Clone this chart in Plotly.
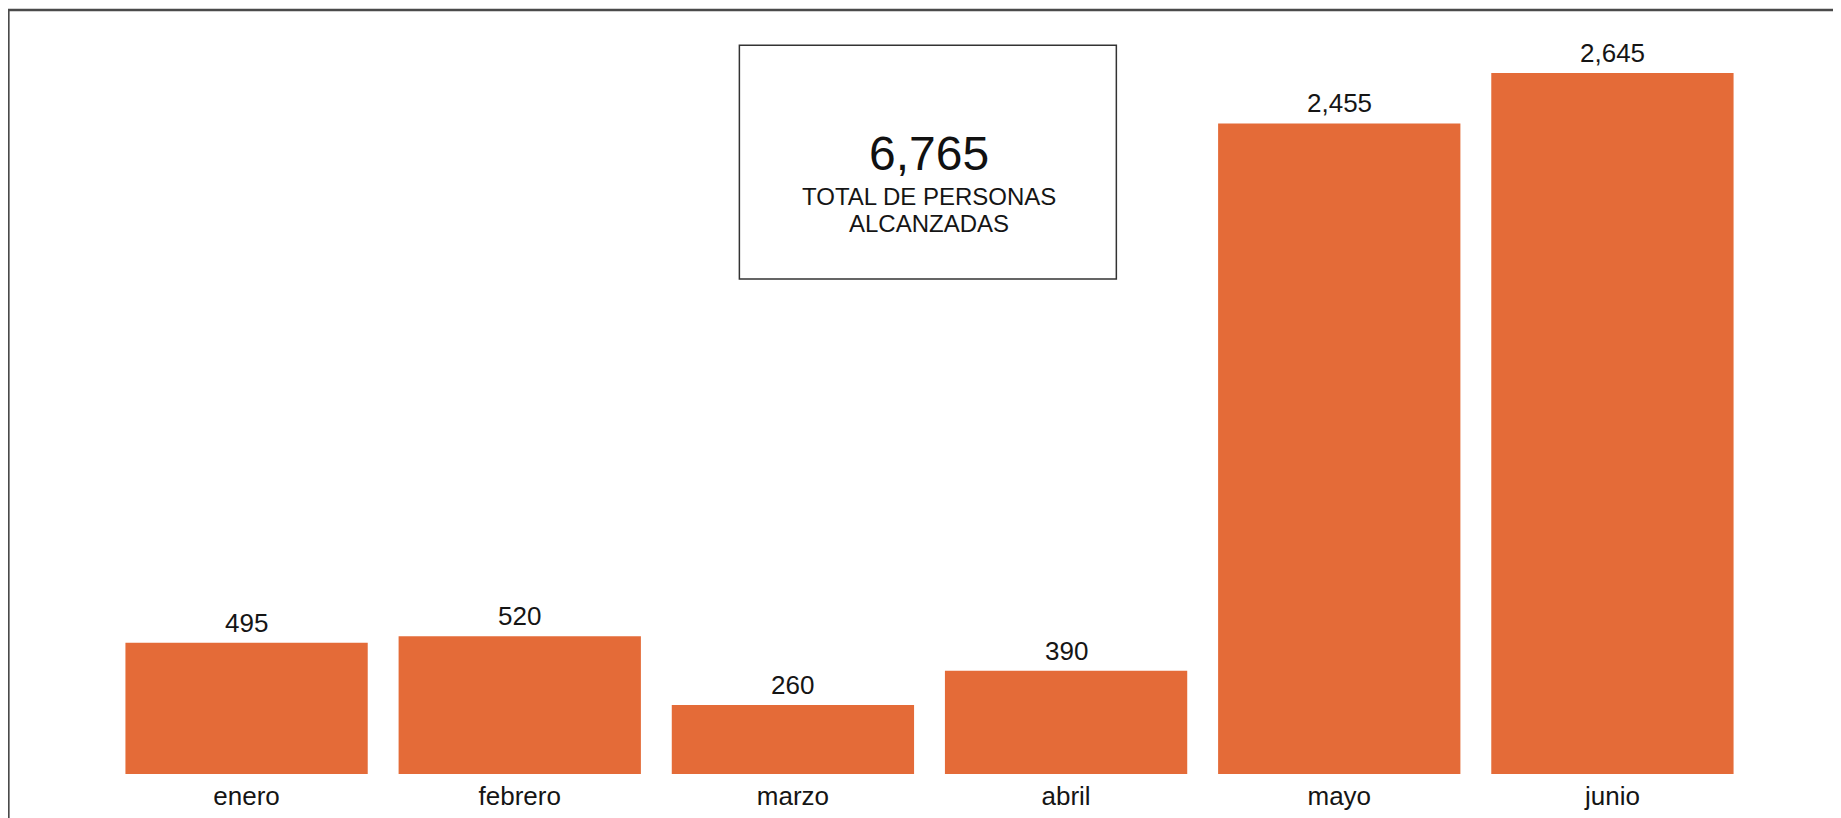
import plotly.graph_objects as go

months = ['enero', 'febrero', 'marzo', 'abril', 'mayo', 'junio']
personas = [495, 520, 260, 390, 2455, 2645]

BAR_COLOR = '#E46B38'
FONT = 'Liberation Sans, Arial, sans-serif'

total = sum(personas)

fig = go.Figure()
fig.add_trace(go.Bar(
    x=months,
    y=personas,
    marker={'color': BAR_COLOR, 'line': {'width': 0}},
    hoverinfo='x+y'
))

# value labels above each bar
for m, v in zip(months, personas):
    fig.add_annotation(
        x=m, y=v, text=f'{v:,}', showarrow=False,
        xanchor='center', yanchor='bottom', yshift=3,
        font={'size': 26, 'color': '#151515', 'family': FONT}
    )

# outer frame (only top and left edges are visible in the original)
fig.add_shape(
    type='rect', xref='paper', yref='paper',
    x0=-0.062, x1=1.2, y0=-0.3, y1=1.0,
    line={'color': '#4a4a4a', 'width': 2.5},
    layer='above'
)

# total box
fig.add_shape(
    type='rect', xref='paper', yref='paper',
    x0=0.384, x1=0.614, y0=0.648, y1=0.954,
    line={'color': '#333333', 'width': 1.5},
    fillcolor='white'
)
fig.add_annotation(
    xref='paper', yref='paper', x=0.4994, y=0.8128,
    text=f'{total:,}', showarrow=False,
    font={'size': 48, 'color': '#111111', 'family': FONT},
    xanchor='center', yanchor='middle'
)
fig.add_annotation(
    xref='paper', yref='paper', x=0.4994, y=0.7565,
    text='TOTAL DE PERSONAS', showarrow=False,
    font={'size': 24, 'color': '#151515', 'family': FONT},
    xanchor='center', yanchor='middle'
)
fig.add_annotation(
    xref='paper', yref='paper', x=0.4994, y=0.7199,
    text='ALCANZADAS', showarrow=False,
    font={'size': 24, 'color': '#151515', 'family': FONT},
    xanchor='center', yanchor='middle'
)

fig['layout'].update({
    'width': 1841,
    'height': 818,
    'margin': {'l': 102, 'r': 100, 't': 2, 'b': 52},
    'paper_bgcolor': 'white',
    'plot_bgcolor': 'white',
    'bargap': 0.113,
    'showlegend': False,
    'font': {'family': FONT, 'color': '#151515'},
    'xaxis': {
        'showgrid': False,
        'showline': False,
        'zeroline': False,
        'ticks': '',
        'ticklabelstandoff': 4,
        'tickfont': {'size': 26, 'color': '#151515'},
    },
    'yaxis': {
        'range': [0, 2883],
        'visible': False,
        'showgrid': False,
        'zeroline': False,
    },
})

fig.write_html('out.html')
